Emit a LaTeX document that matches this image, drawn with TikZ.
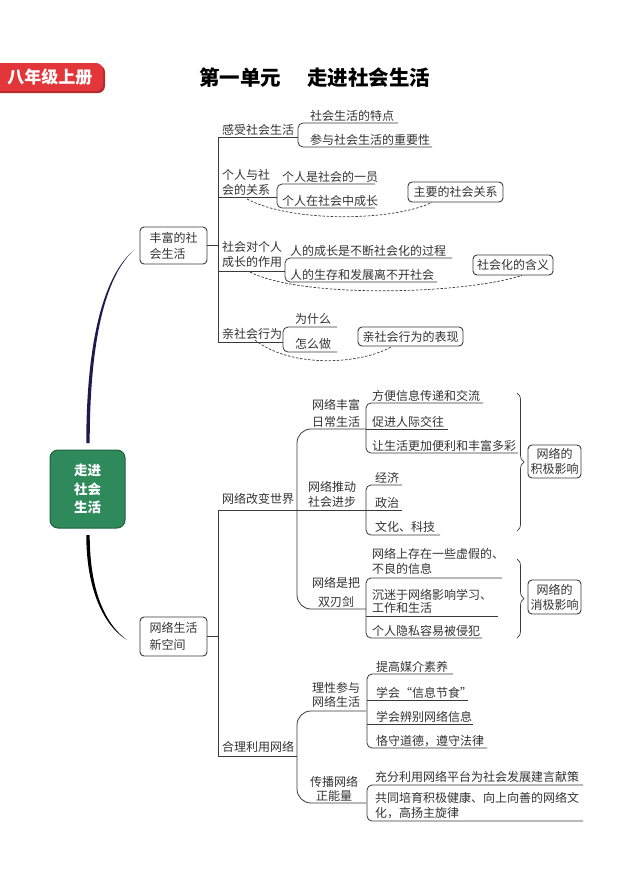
\documentclass[tikz,border=0pt]{standalone}
\usepackage{fontspec}
\setmainfont{Noto Sans CJK SC}
\usetikzlibrary{decorations.pathreplacing}
\definecolor{ink}{HTML}{333333}
\definecolor{lnc}{HTML}{3A3A3A}
\definecolor{redl}{HTML}{E2363A}
\definecolor{greenb}{HTML}{2E8A5A}
\definecolor{greenbd}{HTML}{1F5F3E}
\definecolor{navy}{HTML}{1C1C4A}
\newcommand\brk[5]{\draw[ln, rounded corners=5pt] (#3,#2) -- (#1,#2) -- (#1,#4) -- (#5,#4);}
\begin{document}
\begin{tikzpicture}[x=1pt,y=-1pt,
 ln/.style={draw=lnc, line width=0.8pt},
 dsh/.style={draw=lnc, line width=0.7pt, dash pattern=on 2.5pt off 1.6pt},
 t/.style={anchor=base west, inner sep=0pt, font=\fontsize{12}{14}\selectfont, text=ink},
 box/.style={draw=lnc, line width=0.9pt, rounded corners=4pt, text=ink, inner sep=0pt},
 bigbox/.style={box, font=\fontsize{12}{16}\selectfont},
 brace/.style={draw=lnc, line width=0.7pt, decorate, decoration={brace, amplitude=7pt}},
]
\fill[white] (0,0) rectangle (640,895);
\useasboundingbox (0,0) rectangle (640,895);

% header
\fill[redl!80!black, rounded corners=7pt] (-12,65) rectangle (105,93);
\fill[redl, rounded corners=7pt] (-12,63) rectangle (103,91);
\node[font=\fontsize{17}{17}\selectfont\bfseries, text=white] (lab) at (50,77) {八年级上册};
\node[anchor=base west, inner sep=0pt, font=\fontsize{20.5}{20.5}\selectfont\bfseries] (t1) at (199,85.5) {第一单元};
\node[anchor=base west, inner sep=0pt, font=\fontsize{20.5}{20.5}\selectfont\bfseries] (t2) at (307,85.5) {走进社会生活};

% centre
\node[draw=greenbd, fill=greenb, line width=1pt, rounded corners=8pt, minimum width=75pt, minimum height=78pt,
      align=center, text=white, font=\fontsize{13.5}{18.5}\selectfont\bfseries] (root) at (87.5,489) {走进\\社会\\生活};
\fill[navy] (86.3,443) .. controls (86.3,340) and (104,275) .. (134,250)
   .. controls (105.5,276) and (89.7,340) .. (89.7,443) -- cycle;
\fill[black] (86.3,535) .. controls (86.3,590) and (104,626) .. (127,640)
   .. controls (105,624) and (89.7,590) .. (89.7,535) -- cycle;

% level-1 boxes
\node[bigbox, minimum width=67pt, minimum height=37pt, align=left] (rich) at (173.5,245.5) {丰富的社\\会生活};
\node[bigbox, minimum width=67pt, minimum height=39pt, align=left, font=\fontsize{12}{17}\selectfont] (net) at (173.5,636.5) {网络生活\\新空间};

% ===== branch A =====
\draw[ln] (rich.east) -- (218,245.5);
\draw[ln] (298,137) -- (218,137) -- (218,342) -- (283,342);
\draw[ln] (218,197) -- (277,197);
\draw[ln] (218,271) -- (285,271);
\brk{298}{123}{398}{147}{432}
\brk{277}{184}{375}{208}{375}
\brk{285}{258}{452}{282}{437}
\brk{283}{327}{337}{352}{337}

\node[t] (a1) at (222,134) {感受社会生活};
\node[t] (a1c1) at (310,120) {社会生活的特点};
\node[t] (a1c2) at (310,144) {参与社会生活的重要性};
\node[t] (a2) at (222,179.5) {个人与社};
\node[t] (a2b) at (222,194.5) {会的关系};
\node[t] (a2c1) at (282,181) {个人是社会的一员};
\node[t] (a2c2) at (282,205) {个人在社会中成长};
\node[t] (a3) at (222,251.5) {社会对个人};
\node[t] (a3b) at (222,266.5) {成长的作用};
\node[t] (a3c1) at (290,255) {人的成长是不断社会化的过程};
\node[t] (a3c2) at (290,279) {人的生存和发展离不开社会};
\node[t] (a4) at (222,338) {亲社会行为};
\node[t] (a4c1) at (295,323.5) {为什么};
\node[t] (a4c2) at (295,348.5) {怎么做};

\node[box, font=\fontsize{12}{14}\selectfont, minimum width=95pt, minimum height=20pt] (rel) at (455.5,192) {主要的社会关系};
\node[box, font=\fontsize{12}{14}\selectfont, minimum width=80pt, minimum height=20pt] (soc) at (513,265) {社会化的含义};
\node[box, font=\fontsize{12}{14}\selectfont, minimum width=105pt, minimum height=19pt] (pro) at (410.5,336.5) {亲社会行为的表现};

\draw[dsh] (247,199) .. controls (290,222) and (390,222) .. (rel.south -| 432,0);
\draw[dsh] (250,272) .. controls (300,298) and (460,295) .. (soc.south -| 522,0);
\draw[dsh] (255,340) .. controls (290,368) and (360,365) .. (pro.south -| 392,0);

% ===== branch B =====
\draw[ln] (net.east) -- (218,636.5);
\draw[ln] (218,510) -- (218,756) -- (297,756);
\draw[ln] (218,510) -- (402,510);
\draw[ln, rounded corners=14pt] (366,429) -- (297,429) -- (297,609) -- (366,609);
\draw[ln] (366,429) -- (448,429);
\brk{366}{403}{483}{453}{518}
\brk{366}{485}{402}{535}{440}
\brk{366}{578}{502}{638}{482}
\draw[ln] (366,616) -- (498,616);
\draw[ln, rounded corners=14pt] (366,711) -- (297,711) -- (297,803) -- (366,803);
\brk{367}{674}{453}{748}{487}
\draw[ln] (367,700) -- (468,700);
\draw[ln] (367,724) -- (473,724);
\brk{367}{785}{583}{821}{583}

\node[t] (b1) at (222,503) {网络改变世界};
\node[t] (b11) at (312,409.5) {网络丰富};
\node[t] (b11b) at (312,426) {日常生活};
\node[t] (b11c1) at (372,400.5) {方便信息传递和交流};
\node[t] (b11c2) at (372,426) {促进人际交往};
\node[t] (b11c3) at (372,450) {让生活更加便利和丰富多彩};
\node[t] (b12) at (308,491.5) {网络推动};
\node[t] (b12b) at (308,506.5) {社会进步};
\node[t] (b12c1) at (375,482) {经济};
\node[t] (b12c2) at (375,507) {政治};
\node[t] (b12c3) at (375,531.5) {文化、科技};
\node[t] (b13) at (312,587.5) {网络是把};
\node[t] (b13b) at (318,606.5) {双刃剑};
\node[t] (b13c1) at (372,558.5) {网络上存在一些虚假的、};
\node[t] (b13c1b) at (372,573.5) {不良的信息};
\node[t] (b13c2) at (372,599) {沉迷于网络影响学习、};
\node[t] (b13c2b) at (372,612.5) {工作和生活};
\node[t] (b13c3) at (372,635.5) {个人隐私容易被侵犯};

\draw[brace] (517,393) -- (517,531);
\draw[brace] (517,559) -- (517,638);
\node[box, font=\fontsize{12}{15}\selectfont, align=center, minimum width=53pt, minimum height=33pt] (pos) at (554.5,461.5) {网络的\\积极影响};
\node[box, font=\fontsize{12}{15}\selectfont, align=center, minimum width=53pt, minimum height=34pt] (neg) at (554.5,597) {网络的\\消极影响};

\node[t] (b2) at (222,751.5) {合理利用网络};
\node[t] (b21) at (312,692.5) {理性参与};
\node[t] (b21b) at (312,706.5) {网络生活};
\node[t] (b21c1) at (376,671) {提高媒介素养};
\node[t] (b21c2) at (376,697) {学会“信息节食”};
\node[t] (b21c3) at (376,721) {学会辨别网络信息};
\node[t] (b21c4) at (376,745) {恪守道德，遵守法律};
\node[t] (b22) at (310,786.5) {传播网络};
\node[t] (b22b) at (316,800.5) {正能量};
\node[t] (b22c1) at (375,781.5) {充分利用网络平台为社会发展建言献策};
\node[t] (b22c2) at (375,802.5) {共同培育积极健康、向上向善的网络文};
\node[t] (b22c2b) at (375,817.5) {化，高扬主旋律};
\end{tikzpicture}
\end{document}
